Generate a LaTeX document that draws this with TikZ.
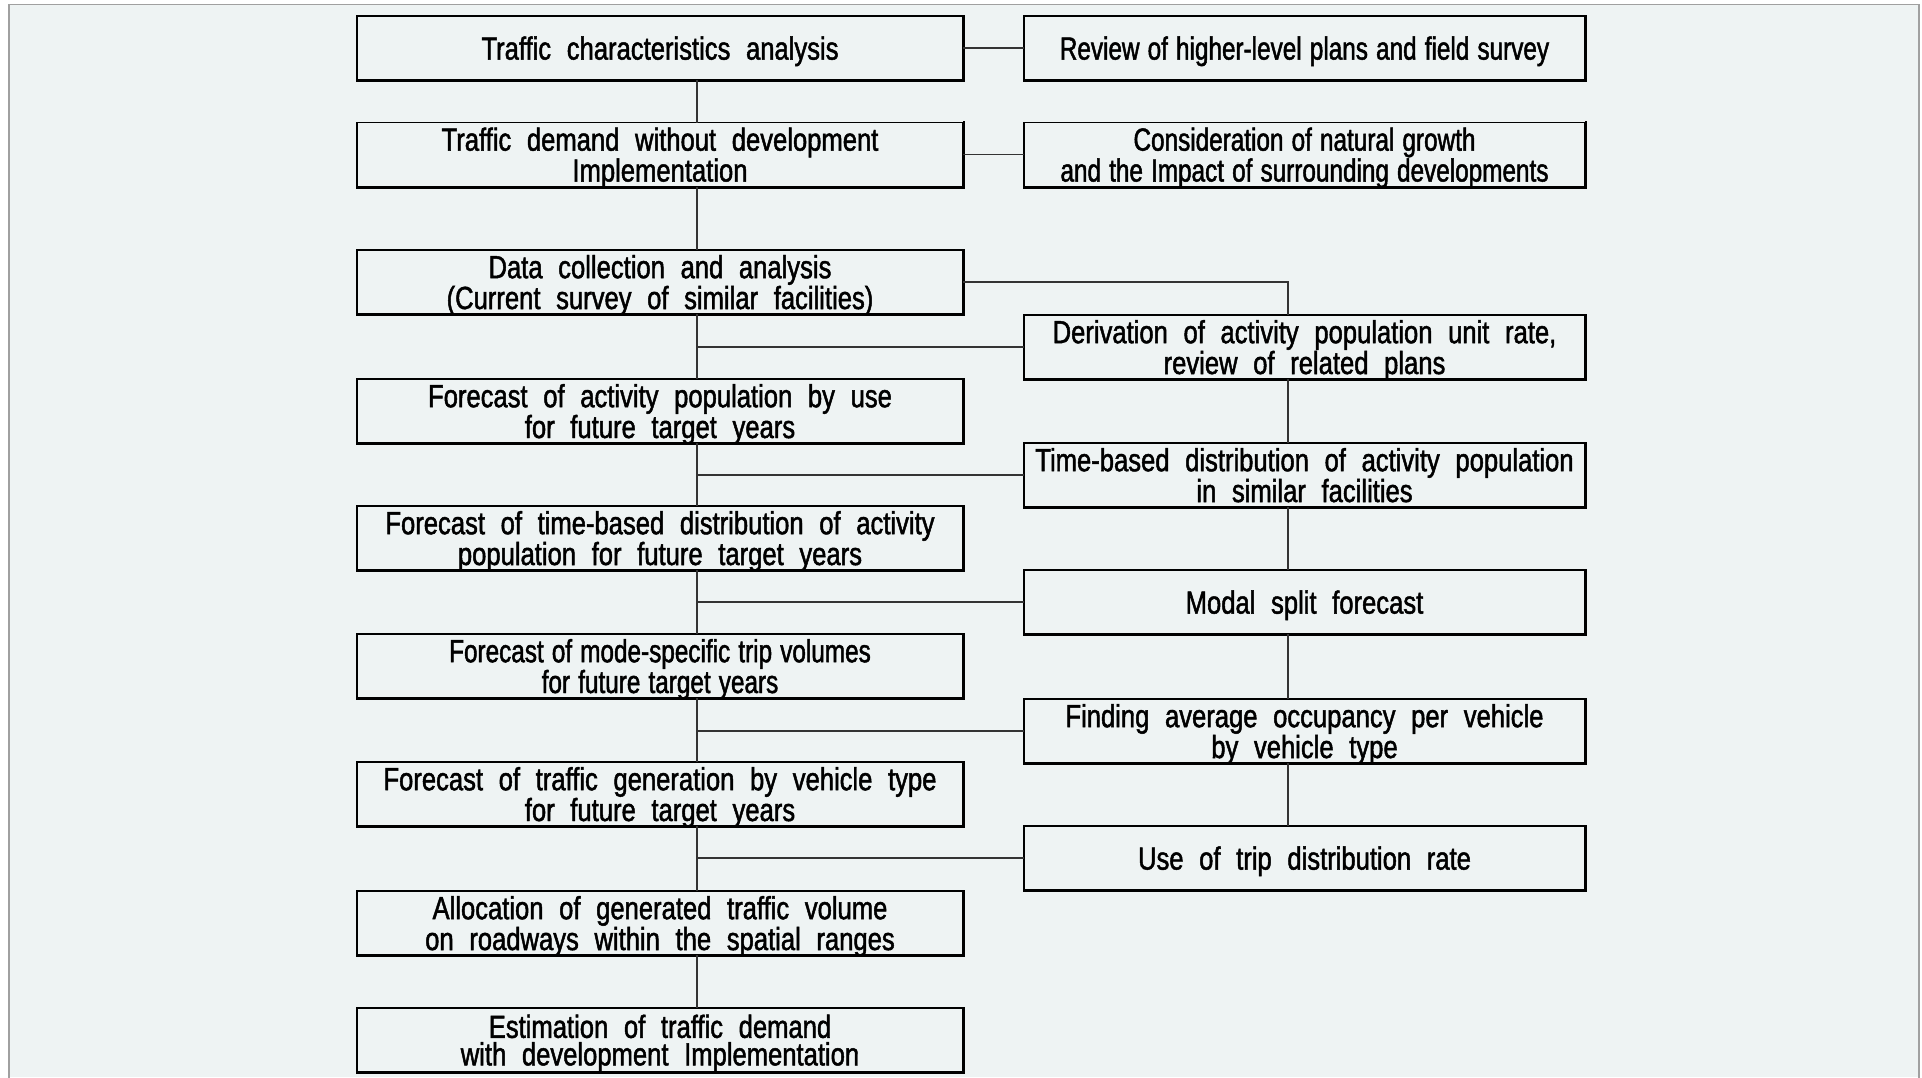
\documentclass[tikz,border=0pt]{standalone}
\usepackage{fontspec}
\setmainfont{Liberation Sans}[FakeStretch=0.8, WordSpace=2.2, FakeBold=1.5]
\newfontfamily\tightfont{Liberation Sans}[FakeStretch=0.76, WordSpace=1.2, FakeBold=1.5]
\definecolor{panel}{HTML}{EEF3F3}
\definecolor{framegray}{HTML}{A0A0A0}
\definecolor{linkgray}{HTML}{333333}

\begin{document}
\begin{tikzpicture}[x=1pt, y=-1pt,
  stepbox/.style={rectangle, draw=black, line width=1.1pt, fill=panel,
    inner sep=0pt, outer sep=0pt, minimum height=64pt, align=center,
    text depth=0pt, font=\fontsize{32}{27.5}\selectfont},
  leftbox/.style={stepbox, minimum width=606pt},
  rightbox/.style={stepbox, minimum width=561pt},
  tight/.append style={font=\tightfont\fontsize{32}{27.5}\selectfont},
  link/.style={draw=linkgray, line width=1.2pt},
  shade edge/.style={draw=black, line width=2.6pt, line cap=rect}]

  % page and panel
  \useasboundingbox (0,0) rectangle (1922,1077);
  \fill[white] (0,0) rectangle (1922,1077);
  \fill[panel] (9,4.5) rectangle (1919,1077);
  \draw[framegray, line width=1.5pt] (9,1080) -- (9,4.5) -- (1919,4.5) -- (1919,1080);

  % spine positions
  \coordinate (lsp) at (697,0);
  \coordinate (rsp) at (1288,0);

  % main sequence
  \node[leftbox] (L1) at (660,48) {Traffic characteristics analysis};
  \node[leftbox] (L2) at (660,154.5) {Traffic demand without development\\Implementation};
  \node[leftbox] (L3) at (660,282) {Data collection and analysis\\(Current survey of similar facilities)};
  \node[leftbox] (L4) at (660,411) {Forecast of activity population by use\\for future target years};
  \node[leftbox] (L5) at (660,538) {Forecast of time-based distribution of activity\\population for future target years};
  \node[leftbox, tight] (L6) at (660,666) {Forecast of mode-specific trip volumes\\for future target years};
  \node[leftbox] (L7) at (660,794) {Forecast of traffic generation by vehicle type\\for future target years};
  \node[leftbox] (L8) at (660,923) {Allocation of generated traffic volume\\on roadways within the spatial ranges};
  \node[leftbox] (L9) at (660,1040) {Estimation of traffic demand\\with development Implementation};

  % supporting inputs
  \node[rightbox, tight] (R1) at (1304.5,48) {Review of higher-level plans and field survey};
  \node[rightbox, tight] (R2) at (1304.5,154.5) {Consideration of natural growth\\and the Impact of surrounding developments};
  \node[rightbox] (R3) at (1304.5,347) {Derivation of activity population unit rate,\\review of related plans};
  \node[rightbox] (R4) at (1304.5,475) {Time-based distribution of activity population\\in similar facilities};
  \node[rightbox] (R5) at (1304.5,602) {Modal split forecast};
  \node[rightbox] (R6) at (1304.5,731) {Finding average occupancy per vehicle\\by vehicle type};
  \node[rightbox] (R7) at (1304.5,858) {Use of trip distribution rate};

  % heavier bottom and right edges
  \foreach \n in {L1,L2,L3,L4,L5,L6,L7,L8,L9,R1,R2,R3,R4,R5,R6,R7} {
    \draw[shade edge] ([xshift=0.8pt]\n.north east) -- ([xshift=0.8pt,yshift=-0.8pt]\n.south east)
      -- ([yshift=-0.8pt]\n.south west);
  }

  % left spine
  \foreach \a/\b in {L1/L2,L2/L3,L3/L4,L4/L5,L5/L6,L6/L7,L7/L8,L8/L9} {
    \draw[link] (\a.south -| lsp) -- (\b.north -| lsp);
  }
  % right spine
  \foreach \a/\b in {R3/R4,R4/R5,R5/R6,R6/R7} {
    \draw[link] (\a.south -| rsp) -- (\b.north -| rsp);
  }
  % side links
  \draw[link] (L1.east) -- (R1.west);
  \draw[link] (L2.east) -- (R2.west);
  \draw[link] (L3.east) -| (R3.north -| rsp);
  \foreach \r in {R3,R4,R5,R6,R7} {
    \draw[link] (\r.west -| lsp) -- (\r.west);
  }
\end{tikzpicture}
\end{document}
